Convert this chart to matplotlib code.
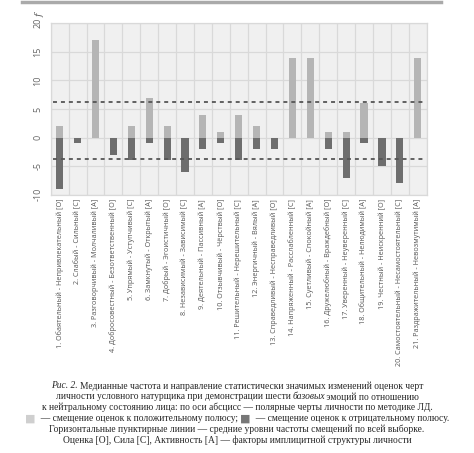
import matplotlib
matplotlib.use("Agg")
import matplotlib.pyplot as plt
from matplotlib.lines import Line2D
import numpy as np

categories = [
    "1. Обаятельный - Непривлекательный [О]",
    "2. Слабый - Сильный [С]",
    "3. Разговорчивый - Молчаливый [А]",
    "4. Добросовестный - Безответственный [О]",
    "5. Упрямый - Уступчивый [С]",
    "6. Замкнутый - Открытый [А]",
    "7. Добрый - Эгоистичный [О]",
    "8. Независимый - Зависимый [С]",
    "9. Деятельный - Пассивный [А]",
    "10. Отзывчивый - Чёрствый [О]",
    "11. Решительный - Нерешительный [С]",
    "12. Энергичный - Вялый [А]",
    "13. Справедливый - Несправедливый [О]",
    "14. Напряженный - Расслабленный [С]",
    "15. Суетливый - Спокойный [А]",
    "16. Дружелюбный - Враждебный [О]",
    "17. Уверенный - Неуверенный [С]",
    "18. Общительный - Нелюдимый [А]",
    "19. Честный - Неискренний [О]",
    "20. Самостоятельный - Несамостоятельный [С]",
    "21. Раздражительный - Невозмутимый [А]",
]
positive = [2, 0, 17, 0, 2, 7, 2, 0, 4, 1, 4, 2, 0, 14, 14, 1, 1, 6, 0, 0, 14]
negative = [-9, -1, 0, -3, -4, -1, -4, -6, -2, -1, -4, -2, -2, 0, 0, -2, -7, -1, -5, -8, 0]
mean_levels = [6.2, -3.7]
yticks = [-10, -5, 0, 5, 10, 15, 20]

W, H = 474, 453
fig = plt.figure(figsize=(W / 100, H / 100), dpi=100)
fig.patch.set_facecolor("white")

ax = fig.add_axes([50.7 / W, 1 - 194.7 / H, 376 / W, 171.4 / H])
ax.set_facecolor("#f0f0f0")
x = np.arange(len(categories))
ax.bar(x, positive, width=0.4, color="#b5b5b5", zorder=3)
ax.bar(x, negative, width=0.4, color="#6e6e6e", zorder=3)
for lvl in mean_levels:
    ax.axhline(lvl, color="#555555", lw=1.3, ls=(0, (2.2, 2.2)), zorder=4,
               xmin=0.005, xmax=0.995)

ax.set_xlim(-0.5, len(categories) - 0.5)
ax.set_ylim(-10, 20)
ax.set_yticks(yticks)
ax.set_yticklabels([str(v) for v in yticks], rotation=90, va="center",
                   fontsize=6.5, color="#666666", family="Open Sans")
ax.set_xticks(x)
ax.set_xticklabels(categories, rotation=90, ha="center", va="top",
                   fontsize=5.2, color="#555555", family="Open Sans")
ax.set_xticks(np.arange(-0.5, len(categories), 1), minor=True)
ax.tick_params(axis="both", which="both", length=0)
ax.tick_params(axis="x", pad=3)
ax.tick_params(axis="y", pad=6)
ax.grid(True, which="major", axis="y", color="#d9d9d9", lw=0.9, zorder=1)
ax.grid(True, which="minor", axis="x", color="#d9d9d9", lw=0.9, zorder=1)
for sp in ax.spines.values():
    sp.set_color("#d9d9d9")
    sp.set_linewidth(0.9)

fig.text(40 / W, 1 - 15 / H, "f", rotation=90, style="italic", fontsize=7,
         color="#555555", ha="center", va="center", family="DejaVu Serif")

# top page rule from scan
fig.add_artist(Line2D([22 / W, 441 / W], [1 - 1.5 / H, 1 - 1.5 / H],
                      color="#aaaaaa", lw=2.5))

# caption
serif = "Liberation Serif"
cap_fs = 6.85
cap_color = "#262626"
sq = dict(family="DejaVu Sans", fontsize=8)
lines = [
    [("Рис. 2. ", dict(style="italic")),
     ("Медианные частота и направление статистически значимых изменений оценок черт", {})],
    [("личности условного натурщика при демонстрации шести ", {}),
     ("базовых", dict(style="italic", _adj=-2)),
     (" эмоций по отношению", {})],
    [("к нейтральному состоянию лица: по оси абсцисс — полярные черты личности по методике ЛД.", {})],
    [("■", dict(sq, color="#cfcfcf")),
     ("  — смещение оценок к положительному полюсу; ", {}),
     ("■", dict(sq, color="#777777")),
     ("  — смещение оценок к отрицательному полюсу.", {})],
    [("Горизонтальные пунктирные линии — средние уровни частоты смещений по всей выборке.", {})],
    [("Оценка [О], Сила [С], Активность [А] — факторы имплицитной структуры личности", {})],
]
line_y = [386, 396.8, 407.6, 418.6, 429.2, 440.0]
renderer = fig.canvas.get_renderer()
for segs, yy in zip(lines, line_y):
    texts, widths = [], []
    for s, kw in segs:
        kw = dict(kw)
        adj = kw.pop("_adj", 0)
        opts = dict(family=serif, fontsize=cap_fs, color=cap_color, va="center", ha="left")
        opts.update(kw)
        t = fig.text(0, 1 - yy / H, s, **opts)
        texts.append(t)
        widths.append(t.get_window_extent(renderer).width + adj)
    xpos = (W - sum(widths)) / 2
    for t, w in zip(texts, widths):
        t.set_x(xpos / W)
        xpos += w

fig.savefig("out.png", dpi=100)
